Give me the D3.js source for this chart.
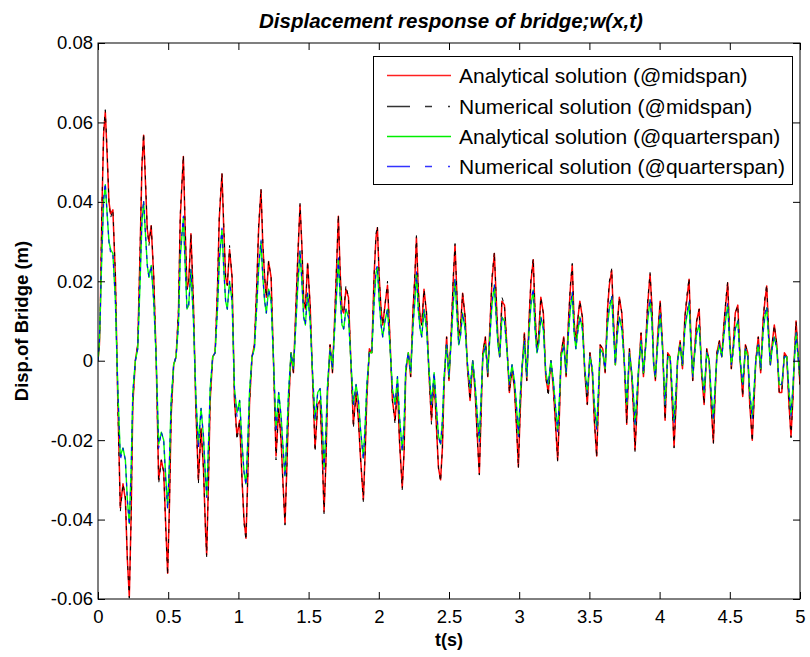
<!DOCTYPE html>
<html><head><meta charset="utf-8">
<script src="https://cdn.jsdelivr.net/npm/d3@7"></script>
<style>
html,body{margin:0;padding:0;background:#fff;}
svg{display:block;font-family:"Liberation Sans",Arial,Helvetica,sans-serif;}
</style></head><body>
<svg id="chart" width="810" height="657"></svg>
<script>
// time (s)
const time = [
0,0.010,0.016,0.022,0.028,0.040,
0.052,0.065,0.078,0.090,0.106,0.124,0.141,0.159,0.178,0.195,0.209,0.223,0.236,0.248,0.266,0.283,0.300,0.313,
0.325,0.338,0.351,0.363,0.379,0.397,0.414,0.432,0.451,0.468,0.482,0.496,0.509,0.521,0.539,0.556,0.573,0.586,
0.608,0.621,0.634,0.646,0.662,0.680,0.697,0.715,0.734,0.751,0.765,0.774,0.787,0.799,0.817,0.834,0.851,0.864,
0.883,0.896,0.909,0.921,0.937,0.955,0.972,0.990,1.009,1.026,1.040,1.054,1.067,1.079,1.097,1.114,1.131,1.144,
1.161,1.174,1.187,1.199,1.215,1.233,1.250,1.268,1.287,1.304,1.318,1.332,1.345,1.357,1.375,1.392,1.409,1.422,
1.439,1.452,1.465,1.477,1.493,1.511,1.528,1.546,1.565,1.582,1.596,1.610,1.623,1.635,1.653,1.670,1.687,1.700,
1.712,1.725,1.738,1.750,1.766,1.784,1.801,1.819,1.838,1.855,1.869,1.890,1.903,1.915,1.933,1.950,1.967,1.980,
1.990,2.003,2.016,2.028,2.044,2.062,2.079,2.097,2.116,2.133,2.147,2.167,2.180,2.192,2.210,2.227,2.244,2.257,
2.268,2.281,2.294,2.306,2.322,2.340,2.357,2.375,2.394,2.411,2.425,2.440,2.453,2.465,2.483,2.500,2.517,2.530,
2.543,2.556,2.569,2.581,2.597,2.615,2.632,2.650,2.669,2.686,2.700,2.716,2.729,2.741,2.759,2.776,2.793,2.806,
2.823,2.836,2.849,2.861,2.877,2.895,2.912,2.930,2.949,2.966,2.980,2.994,3.007,3.019,3.037,3.054,3.071,3.084,
3.100,3.113,3.126,3.138,3.154,3.172,3.189,3.207,3.226,3.243,3.257,3.274,3.287,3.299,3.317,3.334,3.351,3.364,
3.378,3.391,3.404,3.416,3.432,3.450,3.467,3.485,3.504,3.521,3.535,3.552,3.565,3.577,3.595,3.612,3.629,3.642,
3.659,3.672,3.685,3.697,3.713,3.731,3.748,3.766,3.785,3.802,3.816,3.825,3.838,3.850,3.868,3.885,3.902,3.915,
3.932,3.945,3.958,3.970,3.986,4.004,4.021,4.039,4.058,4.075,4.089,4.103,4.116,4.128,4.146,4.163,4.180,4.193,
4.210,4.223,4.236,4.248,4.264,4.282,4.299,4.317,4.336,4.353,4.367,4.383,4.396,4.408,4.426,4.443,4.460,4.473,
4.485,4.498,4.511,4.523,4.539,4.557,4.574,4.592,4.611,4.628,4.642,4.660,4.673,4.685,4.703,4.720,4.737,4.750,
4.763,4.776,4.789,4.801,4.817,4.835,4.852,4.870,4.889,4.906,4.920,4.936,4.949,4.961,4.972,4.986,5.000
];
// displacement at midspan, analytical (m)
const midAnalytical = [
0,0.004,0.012,0.025,0.038,0.057,
0.0627,0.052,0.040,0.037,0.038,0.021,-0.010,-0.037,-0.031,-0.035,-0.050,-0.0594,-0.039,-0.011,0.000,0.004,0.028,0.049,
0.0568,0.045,0.033,0.030,0.034,0.021,0.001,-0.030,-0.025,-0.028,-0.041,-0.0535,-0.036,-0.014,-0.001,0.001,0.012,0.036,
0.0514,0.033,0.018,0.020,0.032,0.014,-0.012,-0.030,-0.017,-0.027,-0.042,-0.0489,-0.030,-0.010,0.001,0.002,0.018,0.036,
0.047,0.033,0.021,0.019,0.028,0.021,-0.010,-0.019,-0.015,-0.030,-0.040,-0.0447,-0.029,-0.011,0.001,0.004,0.019,0.033,
0.043,0.029,0.021,0.016,0.025,0.021,0.000,-0.024,-0.012,-0.020,-0.031,-0.041,-0.027,-0.012,0.002,-0.003,0.013,0.025,
0.0392,0.029,0.015,0.013,0.0245,0.014,-0.004,-0.022,-0.011,-0.010,-0.022,-0.038,-0.026,-0.008,0.004,-0.003,0.012,0.024,
0.0364,0.022,0.013,0.012,0.018,0.016,0.000,-0.016,-0.008,-0.015,-0.024,-0.035,-0.023,-0.009,0.003,0.002,0.022,0.031,
0.0335,0.021,0.013,0.009,0.014,0.019,0.006,-0.010,-0.015,-0.006,-0.020,-0.032,-0.023,-0.003,0.002,-0.004,0.013,0.021,
0.031,0.018,0.011,0.009,0.018,0.012,-0.003,-0.015,-0.004,-0.017,-0.027,-0.030,-0.022,-0.006,0.006,-0.005,0.008,0.020,
0.0291,0.017,0.006,0.008,0.017,0.011,-0.002,-0.010,0.000,-0.008,-0.018,-0.0284,-0.013,0.002,0.006,-0.004,0.010,0.020,
0.027,0.016,0.005,0.001,0.015,0.014,0.004,-0.008,-0.002,-0.007,-0.016,-0.0267,-0.013,-0.003,0.007,-0.005,0.011,0.020,
0.0254,0.012,0.003,0.006,0.016,0.012,-0.004,-0.008,0.000,-0.007,-0.015,-0.025,-0.013,0.002,0.006,-0.004,0.010,0.018,
0.0241,0.010,0.004,0.010,0.015,0.011,-0.003,-0.011,0.002,-0.003,-0.015,-0.024,-0.010,0.004,0.003,-0.003,0.013,0.019,
0.0228,0.010,-0.001,0.008,0.016,0.012,0.000,-0.016,0.003,-0.004,-0.014,-0.0225,-0.013,-0.003,0.007,-0.004,0.005,0.014,
0.0218,0.014,-0.001,-0.005,0.006,0.015,0.004,-0.015,0.002,0.001,-0.010,-0.0216,-0.012,0.000,0.005,-0.002,0.011,0.015,
0.0205,0.006,-0.005,0.002,0.010,0.013,-0.003,-0.011,0.003,0.000,-0.011,-0.0206,-0.008,0.002,0.005,0.001,0.010,0.015,
0.0196,0.007,-0.002,0.003,0.012,0.014,0.000,-0.009,0.004,0.002,-0.011,-0.020,-0.010,0.000,0.006,-0.003,0.010,0.015,
0.0188,0.008,-0.001,0.004,0.009,0.004,-0.008,-0.008,0.002,0.001,-0.010,-0.019,-0.010,0.002,0.010,0.002,-0.006
];
// displacement at midspan, numerical (m)
const midNumerical = [
0,0.004,0.013,0.026,0.039,0.058,
0.0632,0.053,0.040,0.036,0.038,0.022,-0.011,-0.038,-0.031,-0.034,-0.050,-0.0598,-0.040,-0.011,0.000,0.004,0.029,0.050,
0.0573,0.046,0.033,0.029,0.034,0.022,0.001,-0.031,-0.025,-0.028,-0.042,-0.0540,-0.037,-0.014,-0.001,0.001,0.013,0.037,
0.0518,0.034,0.018,0.019,0.032,0.015,-0.012,-0.031,-0.017,-0.027,-0.042,-0.0494,-0.031,-0.010,0.001,0.002,0.019,0.037,
0.0474,0.034,0.021,0.019,0.029,0.021,-0.010,-0.020,-0.015,-0.030,-0.041,-0.0452,-0.029,-0.011,0.001,0.004,0.020,0.034,
0.0434,0.030,0.021,0.016,0.025,0.021,0.000,-0.025,-0.012,-0.020,-0.032,-0.0414,-0.027,-0.012,0.002,-0.003,0.013,0.026,
0.0396,0.029,0.015,0.013,0.0250,0.014,-0.004,-0.023,-0.011,-0.010,-0.023,-0.0385,-0.026,-0.008,0.004,-0.003,0.012,0.025,
0.0368,0.022,0.013,0.012,0.019,0.016,0.000,-0.017,-0.008,-0.015,-0.024,-0.0355,-0.023,-0.009,0.003,0.002,0.022,0.032,
0.0340,0.021,0.013,0.009,0.014,0.020,0.006,-0.010,-0.016,-0.006,-0.020,-0.0325,-0.023,-0.003,0.002,-0.004,0.013,0.022,
0.0315,0.018,0.011,0.009,0.018,0.012,-0.003,-0.016,-0.004,-0.017,-0.027,-0.0305,-0.022,-0.006,0.006,-0.005,0.009,0.021,
0.0295,0.017,0.006,0.008,0.017,0.011,-0.002,-0.010,0.000,-0.008,-0.019,-0.0288,-0.013,0.002,0.006,-0.004,0.010,0.021,
0.0274,0.016,0.005,0.001,0.016,0.014,0.004,-0.008,-0.002,-0.007,-0.016,-0.0271,-0.013,-0.003,0.007,-0.005,0.011,0.021,
0.0258,0.012,0.003,0.006,0.016,0.012,-0.004,-0.009,0.000,-0.007,-0.015,-0.0254,-0.013,0.002,0.006,-0.004,0.010,0.019,
0.0245,0.010,0.004,0.010,0.015,0.011,-0.003,-0.011,0.002,-0.003,-0.015,-0.0244,-0.010,0.004,0.003,-0.003,0.013,0.020,
0.0232,0.010,-0.001,0.008,0.016,0.012,0.000,-0.016,0.003,-0.004,-0.014,-0.0229,-0.013,-0.003,0.007,-0.004,0.005,0.015,
0.0222,0.014,-0.001,-0.005,0.006,0.015,0.004,-0.015,0.002,0.001,-0.010,-0.0220,-0.012,0.000,0.005,-0.002,0.011,0.016,
0.0209,0.006,-0.005,0.002,0.010,0.013,-0.003,-0.011,0.003,0.000,-0.011,-0.0210,-0.008,0.002,0.005,0.001,0.010,0.016,
0.0200,0.007,-0.002,0.003,0.012,0.014,0.000,-0.009,0.004,0.002,-0.011,-0.0204,-0.010,0.000,0.006,-0.003,0.010,0.016,
0.0192,0.008,-0.001,0.004,0.009,0.004,-0.008,-0.008,0.002,0.001,-0.010,-0.0194,-0.010,0.002,0.010,0.002,-0.006
];
// displacement at quarterspan, analytical (m)
const quarterAnalytical = [
0,0.005,0.012,0.020,0.027,0.040,
0.0443,0.037,0.030,0.028,0.027,0.015,-0.007,-0.024,-0.022,-0.025,-0.035,-0.041,-0.027,-0.008,0.000,0.003,0.020,0.035,
0.040,0.032,0.024,0.021,0.024,0.015,0.001,-0.021,-0.018,-0.020,-0.029,-0.037,-0.025,-0.010,-0.001,0.001,0.009,0.026,
0.036,0.024,0.013,0.014,0.023,0.010,-0.009,-0.021,-0.012,-0.019,-0.029,-0.034,-0.021,-0.007,0.001,0.002,0.013,0.025,
0.033,0.023,0.015,0.013,0.020,0.015,-0.007,-0.013,-0.010,-0.021,-0.028,-0.031,-0.020,-0.008,0.001,0.003,0.014,0.023,
0.030,0.021,0.015,0.012,0.018,0.015,0.000,-0.017,-0.008,-0.014,-0.022,-0.029,-0.019,-0.008,0.002,-0.002,0.009,0.018,
0.0275,0.020,0.011,0.009,0.017,0.010,-0.003,-0.015,-0.008,-0.007,-0.015,-0.027,-0.018,-0.006,0.003,-0.002,0.009,0.017,
0.0255,0.016,0.009,0.008,0.013,0.011,0.000,-0.011,-0.006,-0.010,-0.017,-0.0245,-0.016,-0.006,0.002,0.002,0.015,0.022,
0.0235,0.015,0.009,0.006,0.010,0.013,0.004,-0.007,-0.011,-0.004,-0.014,-0.0225,-0.016,-0.002,0.002,-0.003,0.009,0.015,
0.022,0.013,0.008,0.006,0.013,0.008,-0.002,-0.011,-0.003,-0.012,-0.019,-0.021,-0.015,-0.004,0.004,-0.004,0.006,0.014,
0.0204,0.012,0.004,0.006,0.012,0.008,-0.001,-0.007,0.000,-0.006,-0.013,-0.020,-0.009,0.001,0.004,-0.003,0.007,0.014,
0.019,0.011,0.004,0.001,0.011,0.010,0.003,-0.006,-0.001,-0.005,-0.011,-0.0187,-0.009,-0.002,0.005,-0.004,0.008,0.014,
0.0178,0.008,0.002,0.004,0.011,0.008,-0.003,-0.006,0.000,-0.005,-0.011,-0.0175,-0.009,0.001,0.004,-0.003,0.007,0.013,
0.017,0.007,0.003,0.007,0.011,0.008,-0.002,-0.008,0.001,-0.002,-0.011,-0.017,-0.007,0.003,0.002,-0.002,0.009,0.013,
0.016,0.007,-0.001,0.006,0.011,0.008,0.000,-0.011,0.002,-0.003,-0.010,-0.016,-0.009,-0.002,0.005,-0.003,0.004,0.010,
0.0153,0.010,-0.001,-0.004,0.004,0.0119,0.003,-0.011,0.001,0.001,-0.007,-0.0153,-0.008,0.000,0.004,-0.001,0.008,0.011,
0.0145,0.004,-0.004,0.001,0.007,0.009,-0.002,-0.008,0.002,0.000,-0.008,-0.0146,-0.006,0.001,0.004,0.001,0.007,0.011,
0.014,0.005,-0.001,0.002,0.008,0.010,0.000,-0.006,0.003,0.001,-0.008,-0.0142,-0.007,0.000,0.004,-0.002,0.007,0.011,
0.0133,0.006,-0.001,0.003,0.006,0.003,-0.006,-0.006,0.001,0.001,-0.007,-0.0135,-0.007,0.001,0.007,0.001,-0.004
];
// displacement at quarterspan, numerical (m)
const quarterNumerical = [
0,0.005,0.012,0.021,0.028,0.041,
0.0447,0.037,0.030,0.027,0.027,0.015,-0.007,-0.025,-0.022,-0.025,-0.035,-0.0414,-0.028,-0.008,0.000,0.003,0.021,0.036,
0.0404,0.032,0.024,0.021,0.024,0.015,0.001,-0.022,-0.018,-0.020,-0.030,-0.0374,-0.025,-0.010,-0.001,0.001,0.009,0.027,
0.0364,0.024,0.013,0.014,0.023,0.010,-0.009,-0.022,-0.012,-0.019,-0.029,-0.0344,-0.021,-0.007,0.001,0.002,0.013,0.026,
0.0334,0.023,0.015,0.013,0.020,0.015,-0.007,-0.014,-0.010,-0.021,-0.028,-0.0314,-0.020,-0.008,0.001,0.003,0.014,0.024,
0.0304,0.021,0.015,0.012,0.018,0.015,0.000,-0.018,-0.008,-0.014,-0.022,-0.0294,-0.019,-0.008,0.002,-0.002,0.009,0.019,
0.0279,0.020,0.011,0.009,0.017,0.010,-0.003,-0.015,-0.008,-0.007,-0.015,-0.0274,-0.018,-0.006,0.003,-0.002,0.009,0.018,
0.0259,0.016,0.009,0.008,0.013,0.011,0.000,-0.011,-0.006,-0.010,-0.017,-0.0249,-0.016,-0.006,0.002,0.002,0.015,0.023,
0.0239,0.015,0.009,0.006,0.010,0.013,0.004,-0.007,-0.011,-0.004,-0.014,-0.0229,-0.016,-0.002,0.002,-0.003,0.009,0.016,
0.0224,0.013,0.008,0.006,0.013,0.008,-0.002,-0.011,-0.003,-0.012,-0.019,-0.0214,-0.015,-0.004,0.004,-0.004,0.006,0.015,
0.0208,0.012,0.004,0.006,0.012,0.008,-0.001,-0.007,0.000,-0.006,-0.013,-0.0204,-0.009,0.001,0.004,-0.003,0.007,0.015,
0.0194,0.011,0.004,0.001,0.011,0.010,0.003,-0.006,-0.001,-0.005,-0.011,-0.0191,-0.009,-0.002,0.005,-0.004,0.008,0.015,
0.0182,0.008,0.002,0.004,0.011,0.008,-0.003,-0.006,0.000,-0.005,-0.011,-0.0179,-0.009,0.001,0.004,-0.003,0.007,0.014,
0.0174,0.007,0.003,0.007,0.011,0.008,-0.002,-0.008,0.001,-0.002,-0.011,-0.0174,-0.007,0.003,0.002,-0.002,0.009,0.014,
0.0164,0.007,-0.001,0.006,0.011,0.008,0.000,-0.011,0.002,-0.003,-0.010,-0.0164,-0.009,-0.002,0.005,-0.003,0.004,0.011,
0.0157,0.010,-0.001,-0.004,0.004,0.0122,0.003,-0.011,0.001,0.001,-0.007,-0.0157,-0.008,0.000,0.004,-0.001,0.008,0.012,
0.0149,0.004,-0.004,0.001,0.007,0.009,-0.002,-0.008,0.002,0.000,-0.008,-0.0150,-0.006,0.001,0.004,0.001,0.007,0.012,
0.0144,0.005,-0.001,0.002,0.008,0.010,0.000,-0.006,0.003,0.001,-0.008,-0.0146,-0.007,0.000,0.004,-0.002,0.007,0.012,
0.0137,0.006,-0.001,0.003,0.006,0.003,-0.006,-0.006,0.001,0.001,-0.007,-0.0139,-0.007,0.001,0.007,0.001,-0.004
];
const xTickValues = [0,0.5,1,1.5,2,2.5,3,3.5,4,4.5,5];
const yTickValues = [-0.06,-0.04,-0.02,0,0.02,0.04,0.06,0.08];
const seriesNames = ["Analytical solution (@midspan)","Numerical solution (@midspan)","Analytical solution (@quarterspan)","Numerical solution (@quarterspan)"];
const seriesColors = ["#ff0000","#000000","#00ff00","#0000ff"];
const titleText = "Displacement response of bridge;w(x,t)";
const xLabel = "t(s)";
const yLabel = "Disp.of Bridge (m)";

const svg = d3.select("#chart");
const L = 98, R = 800, T = 43, B = 599;
const x = d3.scaleLinear().domain([0,5]).range([L,R]);
const y = d3.scaleLinear().domain([-0.06,0.08]).range([B,T]);

svg.append("rect").attr("width",810).attr("height",657).attr("fill","#fff");
svg.append("defs").append("clipPath").attr("id","clip")
  .append("rect").attr("x",L).attr("y",T).attr("width",R-L).attr("height",B-T);

const series = [
  {vals: midAnalytical, color: seriesColors[0], dash: null, w: 1.5},
  {vals: midNumerical, color: seriesColors[1], dash: "4,6", w: 1},
  {vals: quarterAnalytical, color: seriesColors[2], dash: null, w: 1.4},
  {vals: quarterNumerical, color: seriesColors[3], dash: "4,5", w: 1.1}
];
series.forEach(s => { if (s.vals.length !== time.length) console.error("length mismatch", s.vals.length, time.length); });

const plot = svg.append("g").attr("clip-path","url(#clip)");
series.forEach(s => {
  const line = d3.line().x((d,i)=>x(time[i])).y(d=>y(d));
  plot.append("path").datum(s.vals)
    .attr("fill","none").attr("stroke",s.color).attr("stroke-width",s.w)
    .attr("stroke-dasharray",s.dash).attr("stroke-linejoin","round")
    .attr("d",line);
});

const fmt = d => String(d);
const tickFont = "18.5px";
function styleAxis(g){ g.select(".domain").remove(); g.selectAll(".tick line").attr("stroke","#000"); g.selectAll("text").attr("fill","#000").style("font-size",tickFont).style("font-family","'Liberation Sans',Arial,sans-serif"); }
svg.append("g").attr("transform",`translate(0,${B})`).call(d3.axisBottom(x).tickValues(xTickValues).tickFormat(fmt).tickSize(-7).tickPadding(11)).call(styleAxis);
svg.append("g").attr("transform",`translate(0,${T})`).call(d3.axisTop(x).tickValues(xTickValues).tickFormat("").tickSize(-7)).call(styleAxis);
svg.append("g").attr("transform",`translate(${L},0)`).call(d3.axisLeft(y).tickValues(yTickValues).tickFormat(fmt).tickSize(-7).tickPadding(5)).call(styleAxis);
svg.append("g").attr("transform",`translate(${R},0)`).call(d3.axisRight(y).tickValues(yTickValues).tickFormat("").tickSize(-7)).call(styleAxis);

svg.append("rect").attr("x",L).attr("y",T).attr("width",R-L).attr("height",B-T)
  .attr("fill","none").attr("stroke","#000").attr("stroke-width",1);

// title and axis labels
svg.append("text").attr("x",451).attr("y",28).attr("text-anchor","middle")
  .style("font-size","20.5px").style("font-weight","bold").style("font-style","italic").text(titleText);
svg.append("text").attr("x",449).attr("y",646).attr("text-anchor","middle")
  .style("font-size","18px").style("font-weight","bold").text(xLabel);
svg.append("text").attr("transform","translate(28,321) rotate(-90)").attr("text-anchor","middle")
  .style("font-size","18.5px").style("font-weight","bold").text(yLabel);

// legend
const lg = svg.append("g");
lg.append("rect").attr("x",373.5).attr("y",56.5).attr("width",419).attr("height",128)
  .attr("fill","#fff").attr("stroke","#000").attr("stroke-width",1);
const rowY = [75.5,106.5,136.5,166.5];
const legendDash = [null,"23,15,7,16,2,100",null,"23,15,7,16,2,100"];
const legendColors = ["#ff2020","#333333","#00ee00","#3333ff"];
seriesNames.forEach((name,i)=>{
  lg.append("rect").attr("x",387).attr("y",rowY[i]-0.75).attr("width",64).attr("height",1.5)
    .attr("fill", i % 2 === 0 ? legendColors[i] : "none");
  if (i % 2 === 1) {
    lg.append("line").attr("x1",387).attr("x2",451).attr("y1",rowY[i]).attr("y2",rowY[i])
      .attr("stroke",legendColors[i]).attr("stroke-width",1.3).attr("stroke-dasharray",legendDash[i]);
  }
  lg.append("text").attr("x",459).attr("y",rowY[i]+7.6).style("font-size","21px").text(name);
});
</script>
</body></html>
